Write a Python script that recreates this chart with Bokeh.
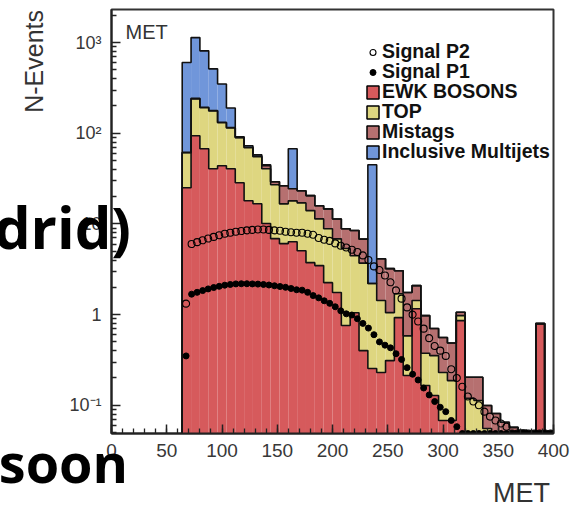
import numpy as np
from bokeh.plotting import figure
from bokeh.layouts import column
from bokeh.models import (Range1d, FixedTicker, ColumnDataSource, Label, Legend, LegendItem, Div)
from bokeh.embed import file_html
from bokeh.resources import INLINE

# ---------------- data ----------------
# background histograms: 8-GeV bins starting at MET = 64
bkg_bin_left = list(range(64, 400, 8))
ewk = [25.1, 93.9, 67.5, 40.6, 43.8, 40.6, 28.5, 18.0, 16.7, 10.1,
       6.88, 6.06, 6.37, 5.07, 3.74, 3.47, 2.25, 1.75, 0.757, 1.05,
       0.401, 0.254, 0.230, 0.311, 0.927, 0.213, 1.16, 0.165, 0.128, 0.068,
       0.068, 0.859, 0, 0, 0, 0, 0, 0, 0, 0,
       0.796, 0]
top = [35.9, 146, 123.5, 136, 87, 74, 60.7, 51.2, 38.4, 30.5,
       20.2, 10.6, 11.6, 12.0, 10.3, 7.9, 6.6, 5.1, 4.6, 3.4,
       3.3, 1.95, 1.2, 0.74, 0.77, 0.37, 0.27, 0.21, 0.225, 0.162,
       0.119, 0.116, 0.119, 0.113, 0.0555, 0, 0, 0, 0, 0,
       0, 0]
mistags = [0.6, 3, 2.5, 2, 1.5, 1.2, 1, 1, 0.9, 3.2,
           2.1, 9.7, 6.5, 6.2, 6.5, 4.5, 5.8, 4.5, 3.5, 4.0,
           3.1, 0, 2.7, 2.16, 1.35, 1.17, 0.66, 0.60, 0.35, 0.33,
           0.30, 0.085, 0.085, 0.091, 0.044, 0.081, 0.065, 0.057, 0.053, 0,
           0, 0]
multijets = [541, 894, 618, 335, 218, 74, 1.3, 2.6, 1.9, 1.2,
             0, 0, 43, 0, 0, 0, 0, 0, 0, 0,
             0, 42.8, 0, 0, 0, 0, 0, 0, 0, 0,
             0, 0, 0, 0, 0, 0, 0, 0, 0, 0,
             0, 0]

# signal histograms: 5-GeV bins starting at MET = 65 (bin centres)
sig_x = [67.5 + 5 * i for i in range(67)]
signal_p1 = [0.35, 1.68, 1.76, 1.84, 1.92, 1.99, 2.05, 2.11, 2.15, 2.18,
             2.19, 2.19, 2.18, 2.17, 2.15, 2.12, 2.08, 2.04, 2.00, 1.94,
             1.88, 1.86, 1.76, 1.62, 1.53, 1.42, 1.33, 1.22, 1.10, 1.02,
             0.99, 0.90, 0.80, 0.71, 0.60, 0.50, 0.46, 0.43, 0.37, 0.32,
             0.26, 0.22, 0.19, 0.155, 0.13, 0.11, 0.095, 0.085, 0.068, 0.058,
             0, 0, 0, 0, 0, 0, 0, 0, 0, 0,
             0, 0, 0, 0, 0, 0, 0]
signal_p2 = [1.32, 6.0, 6.3, 6.6, 6.9, 7.2, 7.5, 7.8, 8.0, 8.2,
             8.35, 8.5, 8.6, 8.7, 8.7, 8.6, 8.5, 8.4, 8.2, 8.1,
             8.0, 8.0, 7.8, 7.6, 7.0, 6.7, 6.5, 6.1, 5.75, 5.5,
             5.2, 4.9, 4.5, 4.0, 3.4, 3.1, 2.7, 2.27, 1.85, 1.5,
             1.2, 1.0, 0.84, 0.70, 0.55, 0.45, 0.40, 0.35, 0.25, 0.20,
             0.16, 0.125, 0.11, 0.10, 0.085, 0.075, 0.068, 0.063, 0.058, 0,
             0, 0, 0, 0, 0, 0, 0]

layer_names = ["EWK BOSONS", "TOP", "Mistags", "Inclusive Multijets"]
layer_colors = ["#d65a5c", "#ded680", "#b67070", "#7096da"]
y_tick_values = [0.1, 1, 10, 100, 1000]
y_tick_labels = ["10\u207b\u00b9", "1", "10", "10\u00b2", "10\u00b3"]
x_tick_values = list(range(0, 401, 50))

YMIN, YMAX = 0.0488, 2320
BIN_W = 8

# ---------------- figure ----------------
p = figure(width=584, height=508, y_axis_type="log",
           x_range=Range1d(0, 400), y_range=Range1d(YMIN, YMAX),
           min_border_left=111, min_border_right=31, min_border_top=9, min_border_bottom=75,
           toolbar_location=None, output_backend="svg",
           background_fill_color="white", border_fill_color="white")
p.title.visible = False
p.xgrid.visible = False
p.ygrid.visible = False
p.outline_line_color = "#333333"
p.outline_line_width = 2

left = np.array(bkg_bin_left, dtype=float)
right = left + BIN_W
edges = np.append(left, right[-1])

cum = np.zeros(len(left))
uppers = []
legend_renderers = []
for name, vals, col in zip(layer_names, [ewk, top, mistags, multijets], layer_colors):
    lower = np.maximum(cum, YMIN)
    cum = cum + np.array(vals, dtype=float)
    upper = np.maximum(cum, YMIN)
    src = ColumnDataSource(dict(left=left, right=right, bottom=lower, top=upper))
    p.quad(left="left", right="right", bottom="bottom", top="top", source=src,
           fill_color=col, line_color=None)
    lr = p.quad(left="left", right="right", bottom="bottom", top="top", source=src,
                fill_color=col, line_color="black", line_width=1.5, visible=False)
    legend_renderers.append(lr)
    uppers.append(upper)

# black staircase outlines of the cumulative histograms
for upper in uppers:
    xs = np.repeat(edges, 2)
    ys = np.concatenate([[YMIN], np.repeat(upper, 2), [YMIN]])
    p.line(xs, ys, line_color="#111111", line_width=1.6)

p2y = np.maximum(np.array(signal_p2), YMIN)
p1y = np.maximum(np.array(signal_p1), YMIN)
r_p2 = p.scatter(sig_x, p2y, marker="circle", size=7, fill_color=None,
                 line_color="black", line_width=1.1)
r_p1 = p.scatter(sig_x, p1y, marker="circle", size=6, fill_color="black",
                 line_color="black")

# ---------------- axes ----------------
minor_y = [k * 10.0 ** e for e in range(-2, 4) for k in range(2, 10)]
p.yaxis.ticker = FixedTicker(ticks=y_tick_values, minor_ticks=minor_y)
p.yaxis.major_label_overrides = dict(zip(y_tick_values, y_tick_labels))
p.xaxis.ticker = FixedTicker(ticks=x_tick_values, minor_ticks=list(range(0, 401, 10)))

for ax in (p.xaxis, p.yaxis):
    ax.major_tick_in = 9
    ax.major_tick_out = 0
    ax.minor_tick_in = 5
    ax.minor_tick_out = 0
    ax.axis_line_width = 2
    ax.axis_line_color = "#222222"
    ax.major_tick_line_color = "#222222"
    ax.minor_tick_line_color = "#222222"
    ax.major_tick_line_width = 1.5
    ax.minor_tick_line_width = 1.3
    ax.major_label_text_font = "Liberation Sans"
    ax.major_label_text_color = "#383838"
p.xaxis.major_label_text_font_size = "19px"
p.yaxis.major_label_text_font_size = "18px"
p.xaxis.major_label_standoff = 10
p.yaxis.major_label_standoff = 10

# ---------------- legend (one row per Legend so the row pitch matches) ----------------
legend_labels = ["Signal P2", "Signal P1"] + layer_names
legend_refs = [r_p2, r_p1] + legend_renderers
row_offsets = [370, 350, 330, 310, 290, 270]
for lab, ren, vy in zip(legend_labels, legend_refs, row_offsets):
    lg = Legend(items=[LegendItem(label=lab, renderers=[ren])], location=(254, vy),
                orientation="vertical", background_fill_alpha=0, border_line_alpha=0,
                padding=0, margin=0, spacing=0, glyph_width=15, glyph_height=16,
                label_standoff=2, label_text_font="Liberation Sans",
                label_text_font_style="bold", label_text_font_size="19.5px",
                label_text_color="#111111", inactive_fill_alpha=0)
    p.add_layout(lg)

# histogram title inside the frame
p.add_layout(Label(x=14, y=391, x_units="screen", y_units="screen", text="MET",
                   text_font="Liberation Sans", text_font_size="20px", text_color="#333333"))


# ---------------- texts lying over / beside the chart ----------------
def overlay(text, left_px, top_px, width_px, size_px, family, weight, color, rotate=False):
    st = {"position": "absolute", "left": f"{left_px}px", "top": f"{top_px}px",
          "width": f"{width_px}px", "text-align": "right", "white-space": "nowrap",
          "font-family": family, "font-weight": weight,
          "font-size": f"{size_px}px", "line-height": "1", "color": color,
          "z-index": "10", "margin": "0", "padding": "0"}
    if rotate:
        st["transform"] = "rotate(-90deg)"
        st["transform-origin"] = "0 0"
    return Div(text=text, styles=st)


y_title = overlay("N-Events", 22, 120, 110, 25, "'Liberation Sans', Arial, sans-serif",
                  "normal", "#333333", rotate=True)
x_title = overlay("MET", 450, 480, 100, 27, "'Liberation Sans', Arial, sans-serif",
                  "normal", "#333333")
d1 = overlay("drid)", -19, 198, 150, 58, "'Open Sans', sans-serif", "bold", "black")
d2 = overlay("soon", -22, 435, 150, 54, "'Open Sans', sans-serif", "bold", "black")

layout = column(p, y_title, x_title, d1, d2, spacing=0)
open("out.html", "w").write(file_html(layout, INLINE))
